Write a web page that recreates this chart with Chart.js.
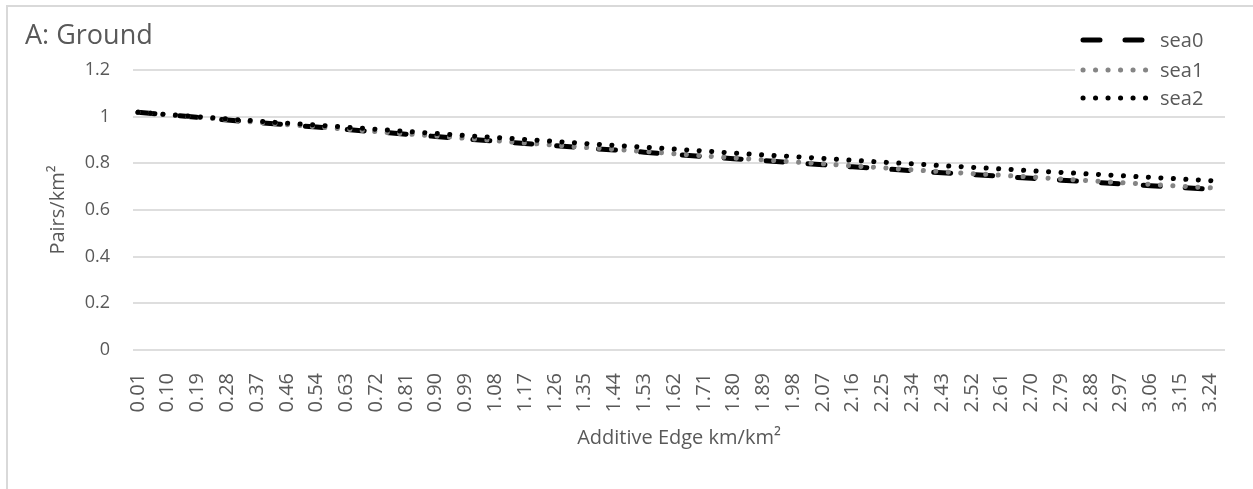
<!DOCTYPE html>
<html>
<head>
<meta charset="utf-8">
<script src="https://cdn.jsdelivr.net/npm/chart.js@4.4.1/dist/chart.umd.min.js"></script>
<style>
  html, body { margin: 0; padding: 0; background: #fff; overflow: hidden; }
  #wrap { position: relative; width: 1253px; height: 489px; }
  #frame { position: absolute; left: 6px; top: 5px; width: 1260px; height: 500px;
           border-left: 2px solid #d9d9d9; border-top: 2px solid #d9d9d9; }
  canvas { position: absolute; left: 0; top: 0; }
</style>
</head>
<body>
<div id="wrap">
  <div id="frame"></div>
  <canvas id="edgeChart" width="1253" height="489"></canvas>
</div>
<script>
// DATA
const tickLabels = ["0.01","0.10","0.19","0.28","0.37","0.46","0.54","0.63","0.72","0.81",
  "0.90","0.99","1.08","1.17","1.26","1.35","1.44","1.53","1.62","1.71",
  "1.80","1.89","1.98","2.07","2.16","2.25","2.34","2.43","2.52","2.61",
  "2.70","2.79","2.88","2.97","3.06","3.15","3.24"];

// last point sits one third of a label step past 3.24
const lastPos = 36.33;

const sea0 = [1.019,1.008,0.997,0.986,0.975,0.965,0.956,0.945,0.935,0.925,
  0.915,0.905,0.895,0.885,0.876,0.866,0.857,0.848,0.838,0.829,
  0.820,0.812,0.803,0.794,0.785,0.777,0.768,0.760,0.752,0.744,
  0.736,0.728,0.720,0.712,0.704,0.697,0.689,0.687];

const sea1 = [1.019,1.008,0.997,0.987,0.976,0.966,0.957,0.946,0.936,0.926,
  0.917,0.907,0.897,0.887,0.878,0.868,0.860,0.851,0.841,0.832,
  0.823,0.815,0.806,0.798,0.789,0.781,0.772,0.764,0.756,0.749,
  0.741,0.733,0.725,0.717,0.710,0.702,0.695,0.693];

const sea2 = [1.019,1.009,1.000,0.990,0.981,0.972,0.964,0.955,0.946,0.937,
  0.928,0.919,0.911,0.902,0.894,0.885,0.877,0.869,0.861,0.853,
  0.844,0.836,0.829,0.821,0.813,0.805,0.798,0.790,0.783,0.776,
  0.768,0.761,0.754,0.747,0.740,0.733,0.726,0.724];

const positions = tickLabels.map((_, i) => i).concat([lastPos]);
const toPoints = vals => vals.map((v, i) => ({ x: positions[i], y: v }));

const textGray = "#595959";
const font = "'Open Sans', sans-serif";

// title + legend drawn over the top right like excel does
const overlay = {
  id: "overlay",
  afterDraw(chart) {
    const ctx = chart.ctx;
    ctx.save();
    ctx.fillStyle = textGray;
    ctx.font = "27px " + font;
    ctx.textBaseline = "middle";
    ctx.fillText("A: Ground", 25, 36);

    ctx.fillStyle = "#fff";
    ctx.fillRect(1075, 22, 178, 88);

    const rows = [40, 70, 98];
    chart.data.datasets.forEach((ds, i) => {
      const y = rows[i];
      ctx.beginPath();
      ctx.strokeStyle = ds.borderColor;
      ctx.lineWidth = ds.borderWidth;
      ctx.lineCap = "round";
      ctx.setLineDash(ds.borderDash);
      ctx.moveTo(1083, y);
      ctx.lineTo(1150, y);
      ctx.stroke();
      ctx.setLineDash([]);
      ctx.fillStyle = textGray;
      ctx.font = "20px " + font;
      ctx.fillText(ds.label, 1160, y + 1);
    });
    ctx.restore();
  }
};

new Chart(document.getElementById("edgeChart"), {
  type: "line",
  data: {
    datasets: [
      {
        label: "sea0",
        data: toPoints(sea0),
        borderColor: "#000",
        borderWidth: 5,
        borderDash: [17, 25],
        borderCapStyle: "round",
        pointRadius: 0,
        order: 3
      },
      {
        label: "sea1",
        data: toPoints(sea1),
        borderColor: "#858585",
        borderWidth: 5,
        borderDash: [0.1, 12.4],
        borderCapStyle: "round",
        pointRadius: 0,
        order: 2
      },
      {
        label: "sea2",
        data: toPoints(sea2),
        borderColor: "#000",
        borderWidth: 5,
        borderDash: [0.1, 12.4],
        borderCapStyle: "round",
        pointRadius: 0,
        order: 1
      }
    ]
  },
  options: {
    responsive: false,
    animation: false,
    layout: { padding: { left: 7, top: 70, right: 28, bottom: 0 } },
    plugins: {
      legend: { display: false },
      tooltip: { enabled: false }
    },
    scales: {
      x: {
        type: "linear",
        min: -0.1667,
        max: 36.5,
        afterBuildTicks: s => { s.ticks = tickLabels.map((_, i) => ({ value: i })); },
        afterFit: s => { s.height = 139; },
        ticks: {
          autoSkip: false,
          minRotation: 90,
          maxRotation: 90,
          padding: 15,
          color: textGray,
          font: { family: font, size: 20 },
          callback: (v, i) => tickLabels[i]
        },
        grid: { display: false },
        border: { display: false },
        title: {
          display: true,
          text: "Additive Edge km/km²",
          color: textGray,
          font: { family: font, size: 20 },
          padding: { bottom: 39 }
        }
      },
      y: {
        min: 0,
        max: 1.2,
        afterFit: s => { s.width = 126; },
        ticks: {
          stepSize: 0.2,
          padding: 23,
          color: textGray,
          font: { family: font, size: 18 },
          callback: v => String(Number(v.toFixed(1)))
        },
        grid: { color: "#dedede", lineWidth: 2, drawTicks: false },
        border: { display: false },
        title: {
          display: true,
          text: "Pairs/km²",
          color: textGray,
          font: { family: font, size: 20 },
          padding: { top: 39 }
        }
      }
    }
  },
  plugins: [overlay]
});
</script>
</body>
</html>
